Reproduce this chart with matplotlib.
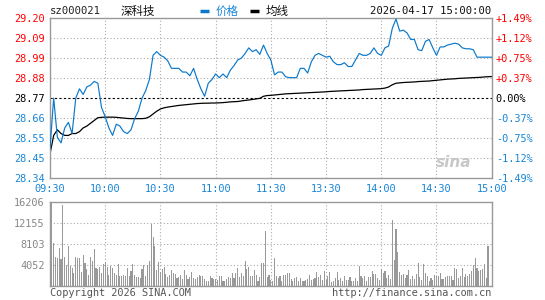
import matplotlib
matplotlib.use("Agg")
import matplotlib.pyplot as plt
import numpy as np

# ---------------- data ----------------
code = "sz000021"
name = "深科技"
stamp = "2026-04-17 15:00:00"
pre_close = 28.77

time_labels = ["09:30", "10:00", "10:30", "11:00", "11:30", "13:30", "14:00", "14:30", "15:00"]
time_ticks = [0, 30, 60, 90, 120, 150, 180, 210, 240]

price_left_labels = ["29.20", "29.09", "28.99", "28.88", "28.77", "28.66", "28.55", "28.45", "28.34"]
pct_labels = ["+1.49%", "+1.12%", "+0.75%", "+0.37%", "0.00%", "-0.37%", "-0.75%", "-1.12%", "-1.49%"]
pct_max = 1.49

vol_labels = ["16206", "12155", "8103", "4052"]
vol_ticks = [16206, 12155, 8103, 4052]

price_minutes = list(range(0, 241, 2))
price = [
    28.50, 28.77, 28.56, 28.53, 28.61, 28.64, 28.58, 28.77, 28.82, 28.79,
    28.83, 28.84, 28.86, 28.85, 28.72, 28.67, 28.61, 28.57, 28.63, 28.62,
    28.59, 28.58, 28.60, 28.66, 28.70, 28.77, 28.81, 28.87, 29.00, 29.02,
    29.00, 28.99, 28.97, 28.93, 28.93, 28.93, 28.91, 28.91, 28.89, 28.93,
    28.87, 28.82, 28.78, 28.85, 28.87, 28.90, 28.88, 28.90, 28.88, 28.92,
    28.945, 28.975, 28.985, 29.01, 29.04, 29.02, 29.03, 29.005, 29.055, 29.01,
    28.975, 28.895, 28.91, 28.91, 28.885, 28.88, 28.88, 28.88, 28.93, 28.93,
    28.905, 28.965, 29.00, 29.01, 29.00, 28.99, 28.995, 28.965, 28.95, 28.95,
    28.96, 28.94, 28.94, 28.975, 29.01, 29.00, 29.00, 29.01, 29.04, 29.01,
    29.00, 29.04, 29.05, 29.145, 29.195, 29.13, 29.135, 29.12, 29.085, 29.085,
    29.03, 29.025, 29.075, 29.085, 29.04, 29.00, 29.045, 29.045, 29.055, 29.06,
    29.065, 29.06, 29.04, 29.035, 29.035, 29.03, 28.99, 28.99, 28.99, 28.99,
    28.99,
]
avg_price = [
    28.47, 28.57, 28.60, 28.58, 28.57, 28.57, 28.58, 28.58, 28.59, 28.61,
    28.62, 28.635, 28.65, 28.665, 28.667, 28.668, 28.668, 28.668, 28.667, 28.665,
    28.663, 28.661, 28.66, 28.66, 28.66, 28.66, 28.662, 28.67, 28.685, 28.70,
    28.712, 28.718, 28.722, 28.725, 28.728, 28.731, 28.733, 28.735, 28.737, 28.739,
    28.741, 28.742, 28.743, 28.743, 28.744, 28.744, 28.745, 28.746, 28.748, 28.750,
    28.751, 28.752, 28.755, 28.758, 28.760, 28.763, 28.766, 28.769, 28.780, 28.784,
    28.785, 28.787, 28.789, 28.791, 28.793, 28.794, 28.795, 28.796, 28.797, 28.798,
    28.799, 28.800, 28.801, 28.802, 28.803, 28.804, 28.806, 28.807, 28.808, 28.809,
    28.810, 28.811, 28.812, 28.813, 28.814, 28.816, 28.817, 28.818, 28.819, 28.820,
    28.821, 28.824, 28.830, 28.842, 28.850, 28.852, 28.854, 28.855, 28.856, 28.857,
    28.859, 28.860, 28.861, 28.862, 28.864, 28.866, 28.868, 28.870, 28.872, 28.873,
    28.874, 28.876, 28.877, 28.878, 28.879, 28.880, 28.881, 28.882, 28.884, 28.885,
    28.886,
]

vol_am = [
    4820, 16200, 8230, 5590, 5340, 7270, 5140, 15620, 5530, 4050,
    7590, 3730, 3410, 2440, 5470, 5340, 5340, 2640, 5920, 4370,
    3280, 2100, 5530, 4690, 7070, 3410, 3280, 3600, 2440, 4180,
    4500, 3540, 2120, 3860, 3410, 2440, 2120, 4180, 1930, 1930,
    2120, 1800, 3410, 1930, 2890, 4180, 2120, 1610, 1670, 1480,
    3220, 4050, 1800, 4050, 4820, 11900, 9390, 7720, 3090, 4570,
    2640, 3220, 3540, 2250, 1670, 1990, 3020, 2380, 2250, 1480,
    1610, 2120, 1350, 2960, 1990, 1350, 1670, 2640, 1480, 1350,
    1700, 2120, 1800, 1800, 1290, 840, 960, 1800, 1480, 1290,
    1290, 1100, 1930, 1930, 840, 840, 1200, 1670, 1480, 2380,
    1480, 2440, 3410, 1670, 2440, 1900, 4820, 3280, 3670, 1930,
    1930, 3090, 2120, 900, 1670, 4370, 4310, 10480, 1610, 2120,
    1160,
]
vol_pm = [
    840, 5340, 1800, 1480, 1800, 840, 1990, 1990, 2440, 2440,
    1290, 840, 1480, 1670, 840, 1480, 960, 840, 1090, 1350,
    1990, 1160, 1220, 1480, 2640, 1610, 1990, 1090, 2760, 1030,
    1800, 2640, 640, 960, 1480, 2640, 1160, 1480, 840, 1800,
    1030, 1030, 1740, 840, 840, 1480, 960, 3730, 1930, 1480,
    1800, 960, 1670, 1670, 2760, 2250, 2250, 1480, 1160, 3220,
    2440, 2890, 1480, 1990, 1300, 12600, 5020, 10930, 6490, 2640,
    1990, 2250, 1480, 1990, 2960, 1290, 1800, 1290, 2250, 4310,
    1740, 1160, 4180, 2440, 1800, 960, 1480, 1160, 2120, 1800,
    1800, 2440, 1290, 1290, 1670, 1800, 1930, 1930, 1100, 3410,
    3280, 1480, 1800, 3410, 1670, 2250, 1800, 2250, 2890, 4050,
    5340, 3410, 2890, 3090, 3280, 4180, 1500, 7590, 0, 0,
]
volume = vol_am + vol_pm
vol_minutes = list(range(len(volume)))
vol_max = 16206

# ---------------- style ----------------
W, H = 545, 300
BLUE = "#0a78cc"
LBLUE = "#1a86d6"
RED = "#ff0000"
GRID = "#aaaaaa"
FRAME = "#999999"
MONO = "DejaVu Sans Mono"
FS = 7.4

fig = plt.figure(figsize=(W / 100, H / 100), dpi=100)
fig.patch.set_facecolor("white")


def fx(x):
    return x / W


def fy(y):
    return 1 - y / H


L, R = 50, 491.7
ax = fig.add_axes([fx(L), fy(178), fx(R) - fx(L), fy(18.3) - fy(178)])
axv = fig.add_axes([fx(L), fy(285.7), fx(R) - fx(L), fy(201.7) - fy(285.7)])

ymin = pre_close * (1 - pct_max / 100)
ymax = pre_close * (1 + pct_max / 100)
ytick_pos = np.linspace(ymax, ymin, len(price_left_labels))

for a in (ax, axv):
    a.set_xlim(0, 240)
    for s in a.spines.values():
        s.set_color(FRAME)
        s.set_linewidth(1.0)
    a.tick_params(length=0)
    for t in time_ticks[1:-1]:
        a.axvline(t, color=GRID, lw=0.8, ls=(0, (1, 2)), zorder=0)

# price panel
ax.set_ylim(ymin, ymax)
for i, yp in enumerate(ytick_pos[1:-1], start=1):
    if price_left_labels[i] == "28.77":
        ax.axhline(yp, color="black", lw=0.8, ls=(0, (2, 2)), zorder=1)
    else:
        ax.axhline(yp, color=GRID, lw=0.8, ls=(0, (1, 2)), zorder=0)

ax.plot(price_minutes, price, color=BLUE, lw=0.85, zorder=3)
ax.plot(price_minutes, avg_price, color="black", lw=0.9, zorder=2)

ax.set_yticks(ytick_pos)
ax.set_yticklabels(price_left_labels, fontfamily=MONO, fontsize=FS)
for lab, txt in zip(ax.get_yticklabels(), price_left_labels):
    v = float(txt)
    lab.set_color(RED if v > pre_close + 0.001 else ("black" if abs(v - pre_close) < 0.001 else LBLUE))
ax.tick_params(axis="y", pad=4)

ax2 = ax.twinx()
ax2.set_ylim(ymin, ymax)
ax2.set_yticks(ytick_pos)
ax2.set_yticklabels(pct_labels, fontfamily=MONO, fontsize=FS)
for lab, txt in zip(ax2.get_yticklabels(), pct_labels):
    lab.set_color(RED if txt.startswith("+") else ("black" if txt.startswith("0") else LBLUE))
ax2.tick_params(length=0, pad=3)
for s in ax2.spines.values():
    s.set_visible(False)

ax.set_xticks(time_ticks)
ax.set_xticklabels(time_labels, fontfamily=MONO, fontsize=FS, color=LBLUE)
ax.tick_params(axis="x", pad=4)

# watermark
ax.text(0.955, 0.1, "sina", transform=ax.transAxes, ha="right", va="center",
        fontsize=11, fontweight="bold", fontstyle="italic", color="#c8c8c8", zorder=1)

# volume panel
axv.set_ylim(0, vol_max)
for v in vol_ticks[1:]:
    axv.axhline(v, color=GRID, lw=0.8, ls=(0, (1, 2)), zorder=0)
axv.bar(vol_minutes, volume, width=0.6, color="#999999", zorder=2)
axv.set_yticks(vol_ticks)
axv.set_yticklabels(vol_labels, fontfamily=MONO, fontsize=FS, color="#888888")
axv.set_xticks([])
axv.tick_params(axis="y", pad=4)

# header
fig.text(fx(50), fy(11), code, fontfamily=MONO, fontsize=FS + 0.3, va="center", ha="left", color="#222222")
fig.text(fx(121), fy(11), name, fontfamily=["Noto Sans CJK SC", "DejaVu Sans"], fontsize=8.3,
         va="center", ha="left", color="#111111")
fig.lines.append(plt.Line2D([fx(200), fx(209)], [fy(11), fy(11)], transform=fig.transFigure,
                            color=BLUE, lw=2.5, solid_capstyle="butt"))
fig.text(fx(216), fy(11), "价格", fontfamily=["Noto Sans CJK SC", "DejaVu Sans"], fontsize=8.3,
         va="center", ha="left", color=LBLUE)
fig.lines.append(plt.Line2D([fx(250), fx(259)], [fy(11), fy(11)], transform=fig.transFigure,
                            color="black", lw=2.5, solid_capstyle="butt"))
fig.text(fx(266), fy(11), "均线", fontfamily=["Noto Sans CJK SC", "DejaVu Sans"], fontsize=8.3,
         va="center", ha="left", color="#111111")
fig.text(fx(491), fy(11), stamp, fontfamily=MONO, fontsize=FS + 0.3, va="center", ha="right", color="#111111")

# footer
fig.text(fx(50), fy(293), "Copyright 2026 SINA.COM", fontfamily=MONO, fontsize=FS, va="center", ha="left", color="#555555")
fig.text(fx(491), fy(293), "http://finance.sina.com.cn", fontfamily=MONO, fontsize=FS, va="center", ha="right", color="#555555")

fig.savefig("out.png", dpi=100)
